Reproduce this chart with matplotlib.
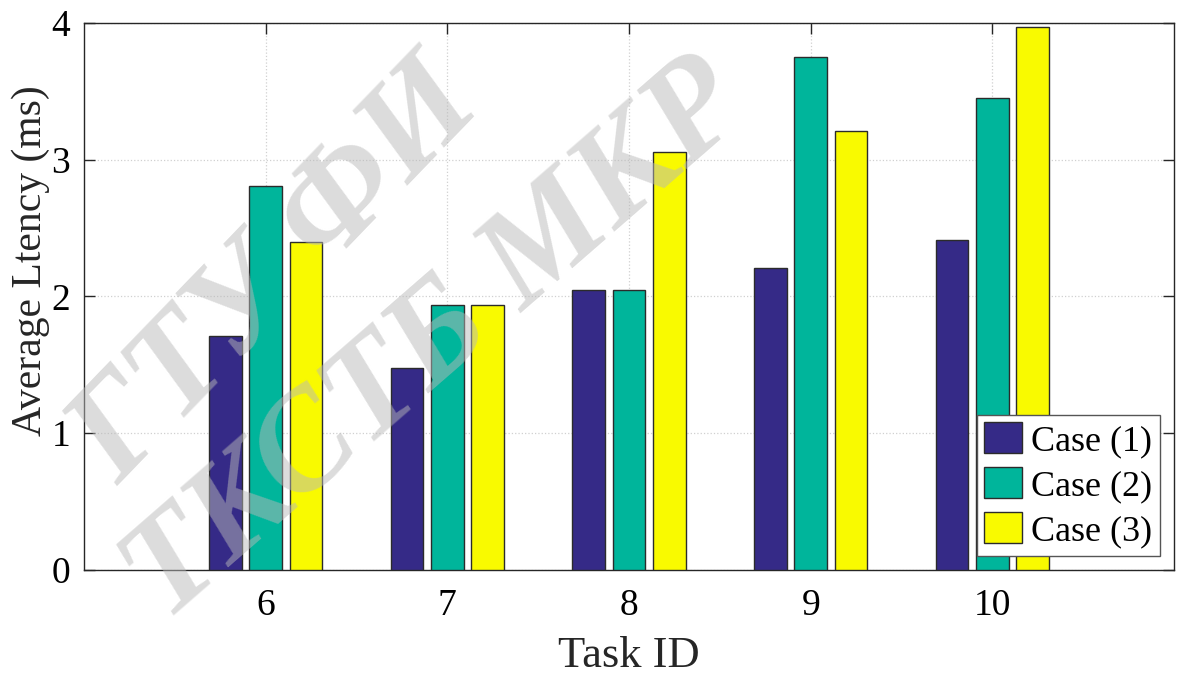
import matplotlib
matplotlib.use("Agg")
import matplotlib.pyplot as plt
import numpy as np

# average latency per task for the three cases
task_ids = [6, 7, 8, 9, 10]
case1 = [1.71, 1.48, 2.05, 2.21, 2.41]
case2 = [2.81, 1.94, 2.05, 3.75, 3.45]
case3 = [2.40, 1.94, 3.06, 3.21, 3.97]
case_labels = ["Case (1)", "Case (2)", "Case (3)"]
case_colors = ["#352A87", "#00B59B", "#F9FA00"]

plt.rcParams["font.family"] = ["Liberation Serif", "DejaVu Serif"]

fig = plt.figure(figsize=(11.79, 6.84), dpi=100)
ax = fig.add_axes([0.0712, 0.1667, 0.9246, 0.7997])

x = np.array(task_ids, dtype=float)
offsets = [-0.222, 0.0, 0.222]
for vals, off, col, lab in zip([case1, case2, case3], offsets, case_colors, case_labels):
    ax.bar(x + off, vals, width=0.18, color=col, edgecolor="#2b2b2b",
           linewidth=1.0, label=lab, zorder=3)

ax.set_xlim(5, 11)
ax.set_ylim(0, 4)
ax.set_xticks(task_ids)
ax.set_yticks([0, 1, 2, 3, 4])
ax.tick_params(direction="in", length=8, width=1, color="#262626",
               labelsize=27, top=True, right=True, pad=10)
ax.tick_params(axis="x", pad=13)
for s in ax.spines.values():
    s.set_color("#262626")
    s.set_linewidth(1.0)
ax.grid(True, linestyle=":", color="#d0d0d0", linewidth=0.9, zorder=0)
ax.set_axisbelow(True)

ax.set_xlabel("Task ID", fontsize=32, labelpad=10, color="#262626")
ax.set_ylabel("Average Ltency (ms)", fontsize=30, color="#262626", va="center")
ax.yaxis.set_label_coords(-0.049, 0.565)

leg = ax.legend(loc="lower right", fontsize=26, frameon=True, fancybox=False,
                framealpha=1, edgecolor="#555555", handlelength=1.05,
                handleheight=0.95, handletextpad=0.25, borderpad=0.2,
                labelspacing=0.25, borderaxespad=0.4)
leg.get_frame().set_linewidth(1.0)
leg.set_zorder(5)

# faint diagonal watermark lettering
wm = dict(fontsize=100, style="italic", weight="bold", color="#b9b9b9",
          alpha=0.5, ha="center", va="center", zorder=10)
fig.text(0.235, 0.60, "ГТУ ФИ", rotation=46, **wm)
fig.text(0.37, 0.50, "ТКСТБ МКР", rotation=41, **wm)

fig.savefig("out.png", dpi=100)
